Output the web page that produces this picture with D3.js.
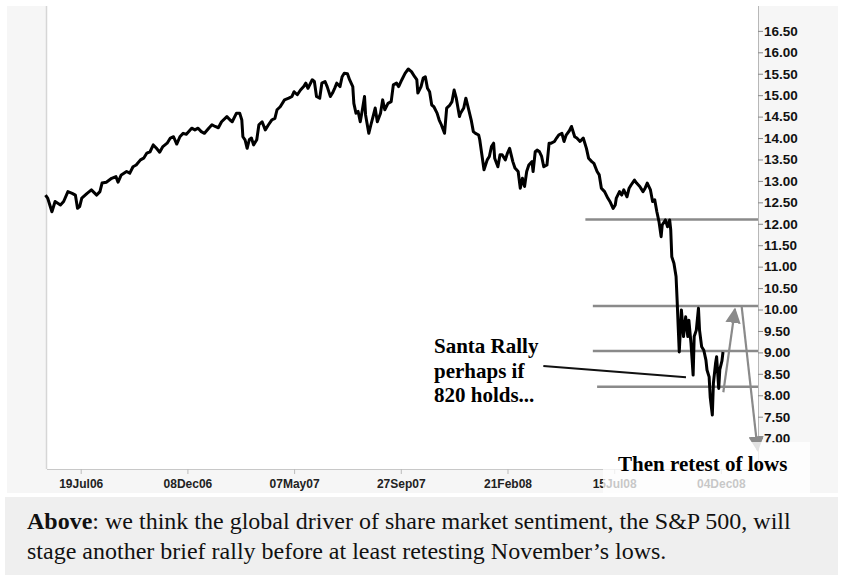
<!DOCTYPE html>
<html>
<head>
<meta charset="utf-8">
<script src="https://cdn.jsdelivr.net/npm/d3@7"></script>
<style>
  body { margin: 0; background: #fff; }
  svg { display: block; }
</style>
</head>
<body>
<div id="chart"></div>
<script>
// trading days counted from 19Jul06, index level / 100
const days = [-33,-31,-27,-24,-19,-16,-12,-8,-5,-3,-1,1,6,10,15,18,20,24,29,33,35,38,43,46,49,52,56,59,62,65,68,71,74,77,81,84,87,90,93,96,99,104,107,110,113,116,120,123,126,129,132,137,140,142,146,149,151,152,154,156,158,160,162,165,167,170,173,176,179,182,184,187,191,195,198,200,203,206,209,211,213,217,219,221,224,226,229,231,234,236,238,240,243,245,247,250,252,255,256,258,260,262,264,266,267,270,272,274,276,278,281,283,285,288,291,293,296,298,301,304,307,310,313,315,316,319,321,323,325,327,329,331,334,336,338,341,343,346,348,350,352,355,356,359,361,363,366,368,370,373,374,376,378,381,383,385,387,388,391,393,395,398,400,402,405,407,410,412,414,416,418,420,423,424,426,428,430,432,434,437,439,441,444,446,448,451,453,455,458,460,463,465,468,471,474,476,479,481,484,486,488,491,494,496,499,501,502,505,507,509,512,514,516,519,521,524,527,529,531,534,536,538,540,542,544,545,548,550,552,553,554,556,558,559,560,561,563,565,567,569,570,572,574,575,577,579,580,582,584,586,587,589,590,592,593,595,596,598,599,601,602];
const levels = [12.67,12.60,12.28,12.52,12.44,12.52,12.75,12.71,12.67,12.36,12.40,12.60,12.71,12.79,12.67,12.75,12.95,12.97,13.06,13.10,12.97,13.14,13.22,13.18,13.33,13.37,13.49,13.53,13.65,13.68,13.84,13.76,13.67,13.80,13.88,14.00,14.03,13.86,14.03,14.11,14.09,14.23,14.19,14.23,14.15,14.11,14.23,14.31,14.27,14.24,14.38,14.50,14.42,14.38,14.58,14.58,14.42,14.03,13.96,13.76,13.96,14.00,13.84,13.96,14.31,14.38,14.19,14.31,14.42,14.46,14.66,14.73,14.89,14.93,14.97,15.08,15.01,15.12,15.20,15.28,15.16,15.36,15.32,14.97,14.93,15.28,15.32,15.20,14.97,15.05,15.16,15.28,15.20,15.43,15.51,15.50,15.36,15.20,14.81,14.58,14.62,14.38,14.66,14.97,14.54,14.11,14.31,14.50,14.70,14.38,14.58,14.89,14.66,14.81,14.85,15.24,15.28,15.20,15.36,15.51,15.61,15.55,15.43,15.36,15.05,15.20,15.40,15.43,15.16,15.08,14.77,14.73,14.58,14.42,14.31,14.11,14.70,14.77,14.85,15.12,14.93,14.50,14.58,14.70,14.93,14.73,14.42,14.15,14.11,14.07,13.96,13.61,13.26,13.49,13.57,13.80,13.88,13.53,13.33,13.61,13.61,13.49,13.65,13.76,13.45,13.30,13.22,12.83,13.06,12.87,13.22,13.37,13.45,13.22,13.68,13.72,13.68,13.57,13.33,13.37,13.88,13.88,13.92,14.00,14.07,14.11,13.92,14.07,14.17,14.27,14.03,14.00,13.92,14.00,13.76,13.53,13.45,13.41,13.22,13.14,12.83,12.75,12.60,12.52,12.36,12.44,12.60,12.75,12.67,12.79,12.63,12.83,12.91,13.02,12.95,12.87,12.75,12.83,12.95,12.79,12.52,12.56,12.28,12.05,11.70,11.97,12.09,11.93,12.09,11.86,11.23,11.08,10.77,10.22,9.60,9.01,9.99,9.37,9.83,9.37,9.75,9.21,8.47,9.37,9.52,10.03,9.52,9.13,9.05,8.82,8.59,8.43,7.96,7.54,8.28,8.74,8.90,8.16,8.60,8.80,9.01];

const tickDays = [0, 100, 200, 300, 400, 500, 600];
const tickLabels = ["19Jul06", "08Dec06", "07May07", "27Sep07", "21Feb08", "15Jul08", "04Dec08"];
const yTicks = d3.range(7, 16.51, 0.5);

// hand-drawn levels on the chart: value and the day where each starts
const supportLevels = [12.1, 10.08, 9.03, 8.2];
const supportStart = [473, 480, 480, 484];

const width = 842, height = 578;
const plot = { left: 47, right: 758, top: 6, bottom: 469 };

const x = d3.scaleLinear().domain([-31.6, 634.8]).range([plot.left, plot.right]);
const y = d3.scaleLinear().domain([6.28, 17.08]).range([plot.bottom, plot.top]);

const svg = d3.select("#chart").append("svg")
  .attr("width", width)
  .attr("height", height);

// backgrounds
svg.append("rect").attr("x", 7).attr("y", 6).attr("width", 831).attr("height", 487).attr("fill", "#f6f6f6");
svg.append("rect").attr("x", plot.left).attr("y", 0)
  .attr("width", plot.right - plot.left).attr("height", plot.bottom)
  .attr("fill", "#fff");
svg.append("line").attr("x1", plot.left - 0.5).attr("x2", plot.left - 0.5)
  .attr("y1", plot.top).attr("y2", plot.bottom)
  .attr("stroke", "#d6d6d6").attr("stroke-width", 1.5);

// right axis
const yAxis = d3.axisRight(y).tickValues(yTicks).tickSize(5).tickFormat(d3.format(".2f"));
const gy = svg.append("g").attr("transform", "translate(" + plot.right + ",0)").call(yAxis);
gy.select(".domain").attr("stroke", "#b8b8b8").attr("d", "M0.5," + plot.top + "V" + plot.bottom);
gy.selectAll(".tick line").attr("stroke", "#888");
gy.selectAll(".tick text")
  .attr("x", 6)
  .attr("fill", "#111")
  .style("font-family", "'Liberation Sans', Arial, sans-serif")
  .style("font-weight", "bold")
  .style("font-size", "13.5px");

// bottom axis
const xAxis = d3.axisBottom(x).tickValues(tickDays).tickSize(5)
  .tickFormat((d, i) => tickLabels[i]);
const gx = svg.append("g").attr("transform", "translate(0," + plot.bottom + ")").call(xAxis);
gx.select(".domain").attr("stroke", "#c8c8c8").attr("d", "M" + plot.left + ",0.5H" + plot.right);
gx.selectAll(".tick line").attr("stroke", "#bbb");
gx.selectAll(".tick text")
  .attr("y", 10)
  .attr("fill", "#222")
  .style("font-family", "'Liberation Sans', Arial, sans-serif")
  .style("font-weight", "bold")
  .style("font-size", "12px");

// support levels
svg.append("g").selectAll("line")
  .data(supportLevels)
  .join("line")
  .attr("x1", (d, i) => x(supportStart[i]))
  .attr("x2", plot.right)
  .attr("y1", d => y(d))
  .attr("y2", d => y(d))
  .attr("stroke", "#8a8a8a")
  .attr("stroke-width", 2.5);

// price line
const series = days.map((d, i) => ({ day: d, v: levels[i] }));
const line = d3.line().x(d => x(d.day)).y(d => y(d.v));
svg.append("path")
  .datum(series)
  .attr("d", line)
  .attr("fill", "none")
  .attr("stroke", "#000")
  .attr("stroke-width", 3)
  .attr("stroke-linejoin", "round");

// arrows
const defs = svg.append("defs");
defs.append("marker")
  .attr("id", "head")
  .attr("viewBox", "0 0 10 10")
  .attr("refX", 9).attr("refY", 5)
  .attr("markerWidth", 7).attr("markerHeight", 7)
  .attr("markerUnits", "strokeWidth")
  .attr("orient", "auto")
  .append("path").attr("d", "M0,0L10,5L0,10Z").attr("fill", "#8a8a8a");

const arrows = [
  { from: [602.3, 8.07], to: [613.2, 10.01] },
  { from: [619.5, 10.07], to: [634.5, 6.72] }
];
svg.append("g").selectAll("line")
  .data(arrows)
  .join("line")
  .attr("x1", d => x(d.from[0])).attr("y1", d => y(d.from[1]))
  .attr("x2", d => x(d.to[0])).attr("y2", d => y(d.to[1]))
  .attr("stroke", "#8a8a8a")
  .attr("stroke-width", 2.2)
  .attr("marker-end", "url(#head)");

// pointer to the 820 area
svg.append("line")
  .attr("x1", x(433.6)).attr("y1", y(8.68))
  .attr("x2", x(567.3)).attr("y2", y(8.42))
  .attr("stroke", "#111").attr("stroke-width", 2);

// notes
const note = svg.append("text")
  .attr("x", 434).attr("y", 353)
  .style("font-family", "'Liberation Serif', 'Times New Roman', serif")
  .style("font-weight", "bold")
  .style("font-size", "21px")
  .attr("fill", "#000");
["Santa Rally", "perhaps if", "820 holds..."].forEach((t, i) => {
  note.append("tspan").attr("x", 434).attr("dy", i === 0 ? 0 : 24.5).text(t);
});

svg.append("rect")
  .attr("x", 603).attr("y", 442).attr("width", 207).attr("height", 51)
  .attr("fill", "#fff").attr("opacity", 0.75);
svg.append("text")
  .attr("x", 618).attr("y", 471)
  .style("font-family", "'Liberation Serif', 'Times New Roman', serif")
  .style("font-weight", "bold")
  .style("font-size", "21px")
  .attr("fill", "#000")
  .text("Then retest of lows");

// caption
svg.append("rect").attr("x", 5).attr("y", 497).attr("width", 833).attr("height", 78).attr("fill", "#efefef");
const cap = svg.append("text")
  .attr("x", 27).attr("y", 529)
  .style("font-family", "'Liberation Serif', 'Times New Roman', serif")
  .style("font-size", "24px")
  .attr("fill", "#111");
cap.append("tspan").style("font-weight", "bold").text("Above");
cap.append("tspan").text(": we think the global driver of share market sentiment, the S&P 500, will");
svg.append("text")
  .attr("x", 27).attr("y", 559)
  .style("font-family", "'Liberation Serif', 'Times New Roman', serif")
  .style("font-size", "24px")
  .attr("fill", "#111")
  .text("stage another brief rally before at least retesting November\u2019s lows.");
</script>
</body>
</html>
